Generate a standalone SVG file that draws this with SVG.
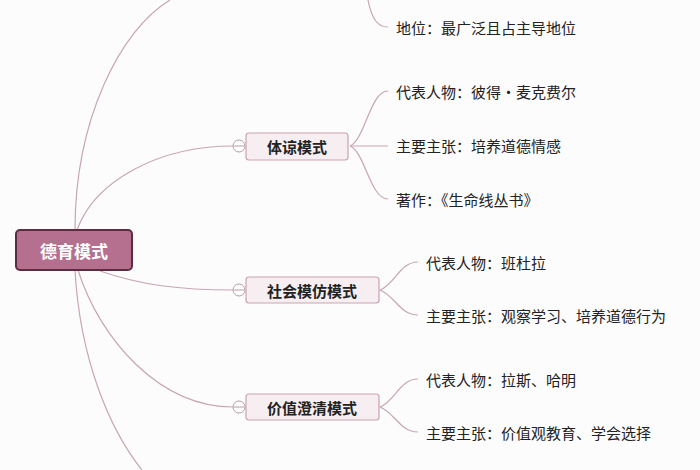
<svg xmlns="http://www.w3.org/2000/svg" width="700" height="470" viewBox="0 0 700 470">
<style>
text{font-family:"Noto Sans CJK SC","Liberation Sans",sans-serif;font-size:15px;fill:#222;dominant-baseline:central}
.c{fill:none;stroke:#c8a6ae;stroke-width:1.2}
.b{fill:#f7eef1;stroke:#c9a3b0;stroke-width:1.2}
.m{text-anchor:middle;font-weight:bold}
.k{fill:#fff;stroke:#b89aa4;stroke-width:1}
</style>
<rect width="700" height="470" fill="#fdfcfd"/>
<g id="connectors">
<path class="c" d="M75,230 C75,120 120,30 170,0"/>
<path class="c" d="M77,230 C95,180 160,146 233,146"/>
<path class="c" d="M100,271 C140,285 180,290 233,290"/>
<path class="c" d="M78,270 C100,340 160,407 233,407"/>
<path class="c" d="M75,270 C80,360 110,430 142,470"/>
<path class="c" d="M368,0 C372,20 378,27 388,27"/>
<path class="c" d="M350,146 C365,140 370,91 388,91"/>
<path class="c" d="M350,146 L388,146"/>
<path class="c" d="M350,146 C365,152 370,199 388,199"/>
<path class="c" d="M380,290 C395,284 400,262 418,262"/>
<path class="c" d="M380,290 C395,296 400,315 418,315"/>
<path class="c" d="M380,407 C395,401 400,379 418,379"/>
<path class="c" d="M380,407 C395,413 400,432 418,432"/>
</g>
<g id="root">
<rect x="16" y="230" width="116" height="40" rx="4" fill="#b5708f" stroke="#5e2c40" stroke-width="2"/>
<text x="74" y="250" class="m" style="fill:#fff;font-size:17px">德育模式</text>
</g>
<g id="n1">
<circle class="k" cx="239" cy="146" r="6"/><line x1="234" y1="146" x2="244" y2="146" stroke="#b89aa4"/>
<rect class="b" x="246" y="133" width="102" height="27" rx="3"/>
<text x="297" y="146" class="m">体谅模式</text>
</g>
<g id="n2">
<circle class="k" cx="239" cy="290" r="6"/><line x1="234" y1="290" x2="244" y2="290" stroke="#b89aa4"/>
<rect class="b" x="246" y="277" width="133" height="26" rx="3"/>
<text x="312" y="290" class="m">社会模仿模式</text>
</g>
<g id="n3">
<circle class="k" cx="239" cy="407" r="6"/><line x1="234" y1="407" x2="244" y2="407" stroke="#b89aa4"/>
<rect class="b" x="246" y="394" width="133" height="26" rx="3"/>
<text x="312" y="407" class="m">价值澄清模式</text>
</g>
<g id="leaves">
<text x="396" y="27">地位：最广泛且占主导地位</text>
<text x="396" y="91">代表人物：彼得·麦克费尔</text>
<text x="396" y="145">主要主张：培养道德情感</text>
<text x="396" y="199">著作：《生命线丛书》</text>
<text x="426" y="262">代表人物：班杜拉</text>
<text x="426" y="315">主要主张：观察学习、培养道德行为</text>
<text x="426" y="379">代表人物：拉斯、哈明</text>
<text x="426" y="432">主要主张：价值观教育、学会选择</text>
</g>
</svg>
